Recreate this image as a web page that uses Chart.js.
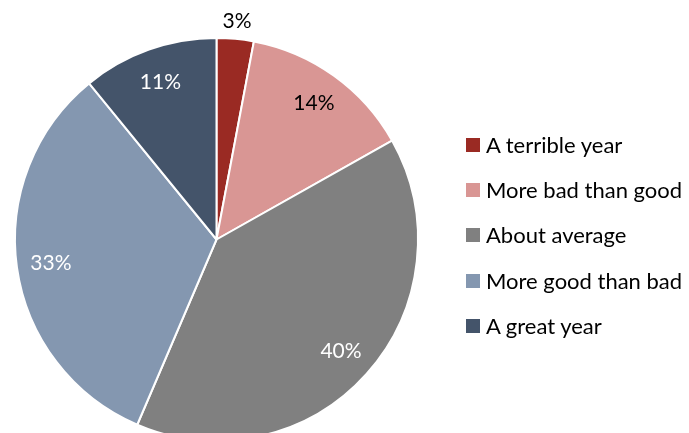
<!DOCTYPE html>
<html>
<head>
<meta charset="utf-8">
<script src="https://cdn.jsdelivr.net/npm/chart.js@4.4.0/dist/chart.umd.min.js"></script>
<style>
  html, body { margin: 0; padding: 0; background: #fff; overflow: hidden; }
  .wrap { position: relative; width: 689px; height: 433px; overflow: hidden; }
  #pie { position: absolute; left: 0; top: 0; }
  .legend { position: absolute; left: 466px; top: 122px; font-family: Lato, "Open Sans", sans-serif; font-size: 22px; color: #000; }
  .legend div { display: flex; align-items: center; height: 45.3px; line-height: 24px; }
  .legend span.box { width: 14px; height: 14px; margin-right: 6px; display: inline-block; }
</style>
</head>
<body>
<div class="wrap">
  <canvas id="pie" width="689" height="460"></canvas>
  <div class="legend" id="legend"></div>
</div>
<script>
const categories = ["A terrible year", "More bad than good", "About average", "More good than bad", "A great year"];
const shares = [3, 14, 40, 33, 11];
const colors = ["#9A2A23", "#D99694", "#808080", "#8497B0", "#44546A"];
const labelColors = ["#000", "#000", "#fff", "#fff", "#fff"];

// legend
const legendEl = document.getElementById("legend");
categories.forEach((name, i) => {
    const row = document.createElement("div");
    const box = document.createElement("span");
    box.className = "box";
    box.style.background = colors[i];
    const txt = document.createElement("span");
    txt.textContent = name;
    row.appendChild(box);
    row.appendChild(txt);
    legendEl.appendChild(row);
});

// percent labels, inside at ~0.83R, small slice outside
const sliceLabels = {
    id: "sliceLabels",
    afterDatasetsDraw(chart) {
        const ctx = chart.ctx;
        const meta = chart.getDatasetMeta(0);
        ctx.save();
        ctx.font = '21px Lato, "Open Sans", sans-serif';
        ctx.textAlign = "center";
        ctx.textBaseline = "middle";
        meta.data.forEach((arc, i) => {
            const p = arc.getProps(["x", "y", "startAngle", "endAngle", "outerRadius"], true);
            const mid = (p.startAngle + p.endAngle) / 2;
            const r = shares[i] < 5 ? p.outerRadius * 1.09 : p.outerRadius * 0.83;
            ctx.fillStyle = labelColors[i];
            ctx.fillText(shares[i] + "%", p.x + Math.cos(mid) * r, p.y + Math.sin(mid) * r);
        });
        ctx.restore();
    }
};

new Chart(document.getElementById("pie").getContext("2d"), {
    type: "pie",
    data: {
        labels: categories,
        datasets: [{
            data: shares,
            backgroundColor: colors,
            borderColor: "#fff",
            borderWidth: 2
        }]
    },
    options: {
        responsive: false,
        animation: false,
        layout: { padding: { left: 14, right: 270, top: 37, bottom: 18 } },
        plugins: {
            legend: { display: false },
            tooltip: { enabled: false }
        }
    },
    plugins: [sliceLabels]
});
</script>
</body>
</html>
